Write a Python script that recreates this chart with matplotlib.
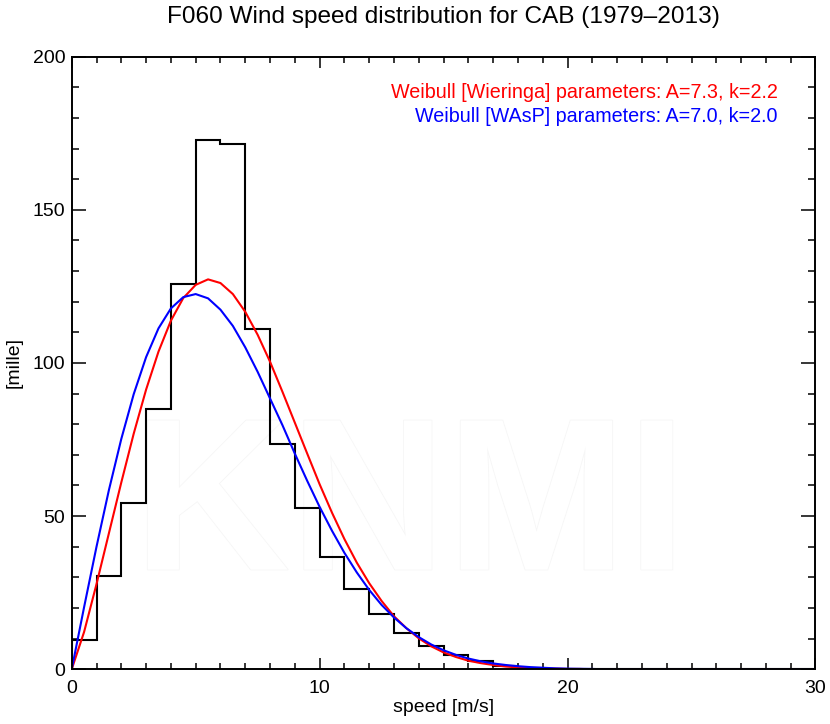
import numpy as np
import matplotlib
matplotlib.use('Agg')
import matplotlib.pyplot as plt
import matplotlib.patheffects as pe

plt.rcParams['font.family'] = ['Liberation Sans', 'DejaVu Sans']

# Histogram of observed wind speed, per mille per 1 m/s bin (0-30 m/s)
bin_edges = np.arange(0, 31)
hist_mille = [9.4, 30.3, 54.3, 85.0, 125.8, 172.8, 171.5, 111.0, 73.7, 52.8,
              36.6, 26.3, 18.0, 11.8, 7.5, 4.5, 2.6, 1.2, 0.5, 0.2,
              0.1, 0.0, 0.0, 0.0, 0.0, 0.0, 0.0, 0.0, 0.0, 0.0]

# Weibull curves every 0.5 m/s
speed_grid = np.arange(0, 30.5, 0.5)
wieringa_mille = [0.0, 12.2, 27.8, 44.4, 61.0, 76.9, 91.3, 103.7, 113.8, 121.2,
                  125.5, 127.3, 126.1, 122.5, 116.7, 109.2, 100.4, 90.6, 80.5, 70.4,
                  60.4, 51.1, 42.5, 34.8, 28.1, 22.3, 17.3, 13.4, 10.1, 7.5,
                  5.5, 4.0, 2.8, 2.0, 1.4, 0.9, 0.6, 0.4, 0.3, 0.2,
                  0.1, 0.1, 0.0] + [0.0] * 18
wasp_mille = [0.0, 20.3, 40.0, 58.5, 75.2, 89.8, 101.9, 111.3, 117.8, 121.5,
              122.5, 121.1, 117.4, 112.1, 105.1, 97.1, 88.4, 79.7, 70.4, 61.5,
              53.0, 45.2, 38.0, 31.6, 25.9, 21.0, 16.9, 13.4, 10.5, 8.1,
              6.2, 4.7, 3.5, 2.6, 1.9, 1.4, 1.0, 0.7, 0.5, 0.3,
              0.2, 0.15, 0.1] + [0.0] * 18

title = 'F060 Wind speed distribution for CAB (1979\u20132013)'
label_wieringa = 'Weibull [Wieringa] parameters: A=7.3, k=2.2'
label_wasp = 'Weibull [WAsP] parameters: A=7.0, k=2.0'

fig = plt.figure(figsize=(8.3, 7.24), dpi=100)
ax = fig.add_axes([0.0864, 0.0756, 0.8961, 0.8461])

# faint KNMI watermark
ax.text(0.455, 0.255, 'KNMI', transform=ax.transAxes, ha='center', va='center',
        fontsize=156, fontweight='bold', color='white', zorder=0,
        path_effects=[pe.withStroke(linewidth=1.2, foreground='#f6f6f6')])

ax.stairs(hist_mille, bin_edges, color='black', linewidth=1.5, baseline=0)
ax.plot(speed_grid, wieringa_mille, color='#ff0000', linewidth=1.5)
ax.plot(speed_grid, wasp_mille, color='#0000ff', linewidth=1.5)

ax.set_xlim(0, 30)
ax.set_ylim(0, 200)
ax.set_xticks([0, 10, 20, 30])
ax.set_xticks(np.arange(0, 31, 1), minor=True)
ax.set_yticks([0, 50, 100, 150, 200])
ax.set_yticks(np.arange(0, 201, 10), minor=True)

ax.tick_params(which='both', direction='in', top=True, right=True,
               labelsize=14, width=1.1, color='black')
ax.tick_params(axis='x', which='major', length=8, pad=7.5)
ax.tick_params(axis='x', which='minor', length=4)
ax.tick_params(axis='y', which='major', length=10, pad=4.5)
ax.tick_params(axis='y', which='minor', length=5)
for s in ax.spines.values():
    s.set_linewidth(1.4)

ax.set_title(title, fontsize=17.6, pad=24.5)
ax.set_xlabel('speed [m/s]', fontsize=14, labelpad=1.5)
ax.set_ylabel('[mille]', fontsize=14, labelpad=7)

ax.text(0.9496, 0.932, label_wieringa, transform=ax.transAxes, ha='right',
        va='baseline', color='#ff0000', fontsize=14.2)
ax.text(0.9496, 0.893, label_wasp, transform=ax.transAxes, ha='right',
        va='baseline', color='#0000ff', fontsize=14.2)

fig.savefig('out.png', dpi=100)
